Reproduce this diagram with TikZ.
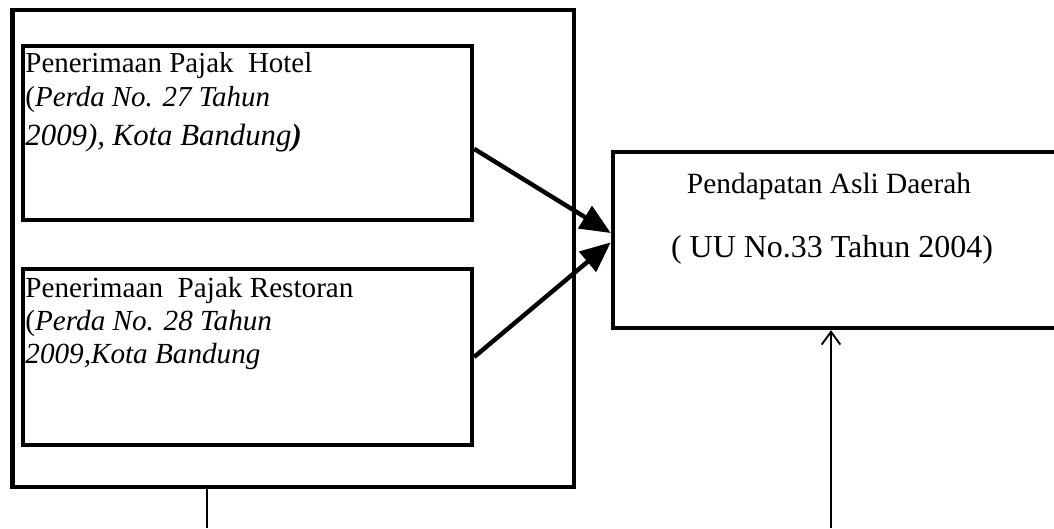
\documentclass[tikz,border=0pt]{standalone}
\usepackage{fontspec}
\setmainfont{Liberation Serif}
\usepackage{tikz}
\usetikzlibrary{arrows.meta}

\begin{document}
\begin{tikzpicture}[x=0.4286pt,y=-0.4286pt,
    kotak/.style={draw,line width=1.9pt,inner sep=0pt},
    isi/.style={anchor=north west,inner sep=0pt,align=left,font=\fontsize{12.4}{14.6}\selectfont},
    panah/.style={line width=1.9pt,-{Triangle[length=13pt,width=11pt]}},
    garis/.style={line width=0.8pt}]
    \useasboundingbox (0,0) rectangle (1054,528);
    \clip (0,0) rectangle (1054,528);
    % kotak variabel X
    \node[kotak,minimum width=240.7pt,minimum height=204.4pt] (luar) at (293.25,248.5) {};
    \node[kotak,minimum width=192.4pt,minimum height=74.6pt] (hotel) at (247.5,133) {};
    \node[kotak,minimum width=192.4pt,minimum height=75.4pt] (resto) at (247.5,357) {};
    \node[isi] (hoteltxt) at (25,52) {Penerimaan Pajak\ \ Hotel\\
        (\textit{Perda No. 27 Tahun}\\[2pt]
        {\fontsize{13.2}{15}\selectfont\textit{2009), Kota Bandung}\textbf{\textit{)}}}};
    \node[isi,font=\fontsize{12.5}{14.1}\selectfont] (restotxt) at (25,277) {Penerimaan\ \ Pajak Restoran\\
        (\textit{Perda No. 28 Tahun}\\
        \textit{2009,Kota Bandung}};
    % kotak variabel Y
    \node[kotak,minimum width=200.2pt,minimum height=75.4pt] (pad) at (846.5,240) {};
    \node[anchor=base,font=\fontsize{12.6}{14}\selectfont] (padjudul) at (829,193) {Pendapatan Asli Daerah};
    \node[anchor=base,font=\fontsize{13.7}{15}\selectfont] (padsumber) at (832,257) {( UU No.33 Tahun 2004)};
    % panah
    \draw[panah] (hotel.-4.8) -- ([yshift=3pt]pad.west);
    \draw[panah] (resto.east) -- ([yshift=-1pt]pad.west);
    \coordinate (kaki) at (207,528);
    \coordinate (dasar) at (831,528);
    \draw[garis] (luar.south -| kaki) -- (kaki);
    \draw[garis,-{Straight Barb[length=5.5pt,width=8pt]}] (dasar) -- (pad.south -| dasar);
\end{tikzpicture}
\end{document}
